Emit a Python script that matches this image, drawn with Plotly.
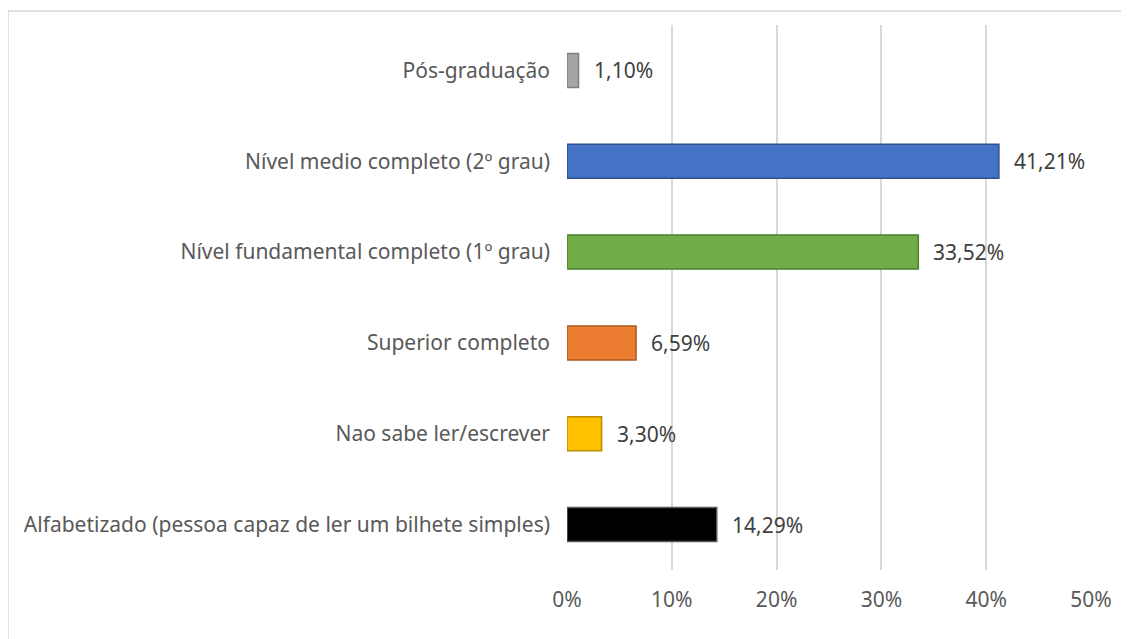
import plotly.graph_objects as go

# top-to-bottom order as drawn
categories = [
    "Pós-graduação",
    "Nível medio completo (2º grau)",
    "Nível fundamental completo (1º grau)",
    "Superior completo",
    "Nao sabe ler/escrever",
    "Alfabetizado (pessoa capaz de ler um bilhete simples)",
]
percent = [1.10, 41.21, 33.52, 6.59, 3.30, 14.29]
fill_colors = ["#A5A5A5", "#4472C4", "#70AD47", "#ED7D31", "#FFC000", "#000000"]
edge_colors = ["#7F7F7F", "#2F528F", "#507E32", "#AE5A21", "#BC8C00", "#595959"]
x_ticks = [0, 10, 20, 30, 40, 50]

# page body adds an 8px offset, so the figure is sized to the window minus that
W, H = 1121, 631
ML, MR, MT, MB = 559, 38, 17, 69
PW, PH = W - ML - MR, H - MT - MB

fig = go.Figure()
fig.add_trace(
    go.Bar(
        y=categories,
        x=percent,
        orientation="h",
        marker=dict(color=fill_colors, line=dict(color=edge_colors, width=1.5)),
        hoverinfo="x+y",
        showlegend=False,
    )
)

for cat, val in zip(categories, percent):
    fig.add_annotation(
        x=val, y=cat, xref="x", yref="y",
        text=f"{val:.2f}%".replace(".", ","),
        showarrow=False, xanchor="left", xshift=13,
        font=dict(size=21, color="#404040"),
    )

# outer chart border (runs off the right and bottom of the picture)
fig.add_shape(
    type="rect", xref="paper", yref="paper",
    x0=(0 - ML) / PW, x1=(W + 30 - ML) / PW,
    y0=-(MB + 30) / PH, y1=1 + (MT - 3) / PH,
    line=dict(color="#D9D9D9", width=1.5), layer="below",
)

fig.update_layout(
    width=W, height=H,
    margin=dict(l=ML, r=MR, t=MT, b=MB),
    paper_bgcolor="white", plot_bgcolor="white",
    bargap=0.626,
    font=dict(family="Noto Sans", size=21, color="#595959"),
    xaxis=dict(
        range=[0, 50], tickvals=x_ticks,
        ticktext=[f"{t}%" for t in x_ticks],
        showgrid=True, gridcolor="#D9D9D9", gridwidth=1.5,
        zeroline=False, showline=False, ticks="",
        ticklabelstandoff=15,
    ),
    yaxis=dict(
        autorange="reversed", showgrid=False, zeroline=False,
        showline=False, ticks="", ticklabelstandoff=16,
    ),
)

fig.write_html("out.html")
